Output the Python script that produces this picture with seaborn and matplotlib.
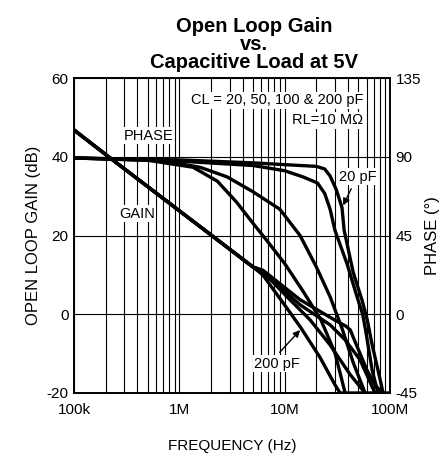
import numpy as np
import pandas as pd
import matplotlib
matplotlib.use("Agg")
import matplotlib.pyplot as plt
import seaborn as sns

# gain curves (dB) vs frequency (Hz)
gain_freq_20 = [1e5, 2.2e5, 2.03e6, 5e6, 6.2e6, 14e6, 30e6, 38e6, 42e6, 45e6, 52e6, 60e6, 72e6, 86e6]
gain_db_20 = [46.8, 39.7, 20.0, 12.0, 11.2, 3.7, -1.5, -3.0, -4.0, -6.0, -10.0, -14.0, -18.0, -20.0]
gain_freq_50 = [1e5, 2.2e5, 2.03e6, 5e6, 6.2e6, 14e6, 27e6, 37.5e6, 52e6, 72e6]
gain_db_50 = [46.8, 39.7, 20.0, 12.0, 11.0, 2.4, -2.7, -6.5, -11.6, -20.0]
gain_freq_100 = [1e5, 2.2e5, 2.03e6, 5e6, 6.2e6, 11.2e6, 17.4e6, 27e6, 41.8e6, 58e6]
gain_db_100 = [46.8, 39.7, 20.0, 12.0, 10.8, 3.7, -1.4, -7.8, -15.3, -20.0]
gain_freq_200 = [1e5, 2.2e5, 2.03e6, 5e6, 6.2e6, 10.8e6, 14.3e6, 21.7e6, 30e6, 33.6e6, 100e6]
gain_db_200 = [46.8, 39.7, 20.0, 12.0, 10.0, 1.1, -3.5, -11.0, -17.9, -20.0, -20.0]

# phase curves (degrees) vs frequency (Hz)
phase_freq_20 = [1e5, 1e6, 5e6, 10e6, 20e6, 24e6, 27e6, 31e6, 35e6, 36.7e6, 44.7e6, 54.3e6, 60.7e6, 67.7e6, 77e6, 86e6]
phase_deg_20 = [89.3, 88.2, 86.5, 85.5, 84.5, 83.0, 79.0, 71.0, 61.0, 48.0, 24.0, 8.0, -3.0, -17.5, -32.0, -45.0]
phase_freq_50 = [1e5, 1e6, 5e6, 10e6, 14.9e6, 20.5e6, 24e6, 27e6, 30e6, 39e6, 49.8e6, 55e6, 59e6, 67.7e6, 77e6]
phase_deg_50 = [89.3, 87.5, 85.0, 82.0, 78.5, 75.0, 69.0, 60.0, 48.0, 29.0, 8.0, 0.0, -10.0, -32.0, -45.0]
phase_freq_100 = [1e5, 6.56e5, 1.57e6, 2.84e6, 5e6, 9e6, 14e6, 20e6, 27e6, 35e6, 45e6, 58e6]
phase_deg_100 = [89.3, 88.0, 84.0, 78.5, 70.0, 60.0, 45.0, 27.0, 10.0, -8.0, -28.0, -45.0]
phase_freq_200 = [1e5, 5e5, 1.35e6, 2.3e6, 3.5e6, 5e6, 6.8e6, 10e6, 15e6, 22e6, 30e6, 37.5e6]
phase_deg_200 = [89.3, 88.0, 84.0, 76.0, 64.0, 52.0, 42.0, 29.0, 13.0, -3.0, -22.0, -45.0]

x_ticks = [1e5, 1e6, 1e7, 1e8]
x_tick_labels = ["100k", "1M", "10M", "100M"]
gain_ticks = [-20, 0, 20, 40, 60]
phase_ticks = [-45, 0, 45, 90, 135]

sns.set_style("white")
plt.rcParams["font.family"] = ["Liberation Sans", "DejaVu Sans"]
plt.rcParams["text.color"] = "black"
plt.rcParams["axes.labelcolor"] = "black"
plt.rcParams["xtick.color"] = "black"
plt.rcParams["ytick.color"] = "black"
plt.rcParams["axes.unicode_minus"] = False

fig = plt.figure(figsize=(4.43, 4.55), dpi=100)
ax = fig.add_axes([74 / 443, 1 - 393 / 455, 316 / 443, 315 / 455])
ax2 = ax.twinx()

lw = 2.4
for f, g in [(gain_freq_20, gain_db_20), (gain_freq_50, gain_db_50),
             (gain_freq_100, gain_db_100), (gain_freq_200, gain_db_200)]:
    df = pd.DataFrame({"freq": f, "val": g})
    sns.lineplot(data=df, x="freq", y="val", ax=ax, color="black", lw=lw,
                 sort=False, estimator=None, legend=False, zorder=5)

for f, p in [(phase_freq_20, phase_deg_20), (phase_freq_50, phase_deg_50),
             (phase_freq_100, phase_deg_100), (phase_freq_200, phase_deg_200)]:
    df = pd.DataFrame({"freq": f, "val": p})
    sns.lineplot(data=df, x="freq", y="val", ax=ax2, color="black", lw=lw,
                 sort=False, estimator=None, legend=False, zorder=5)

ax.set_xscale("log")
ax.set_xlim(1e5, 1e8)
ax.set_ylim(-20, 60)
ax2.set_ylim(-45, 135)
ax.set_xticks(x_ticks)
ax.set_xticklabels(x_tick_labels)
ax.set_yticks(gain_ticks)
ax2.set_yticks(phase_ticks)

ax.grid(True, which="both", axis="x", color="black", lw=0.8)
ax.grid(True, which="major", axis="y", color="black", lw=0.8)
ax.tick_params(axis="y", which="both", length=0, labelsize=11, pad=4)
ax.tick_params(axis="x", which="both", length=0, labelsize=11, pad=7)
ax2.tick_params(which="both", length=0, labelsize=11, pad=4)
for sp in list(ax.spines.values()) + list(ax2.spines.values()):
    sp.set_color("black")
    sp.set_linewidth(1.2)

ax.set_xlabel("FREQUENCY (Hz)", fontsize=11, labelpad=16)
ax.set_ylabel("OPEN LOOP GAIN (dB)", fontsize=12, labelpad=4)
ax2.set_ylabel("PHASE (°)", fontsize=12, labelpad=3)

box = dict(facecolor="white", edgecolor="none", pad=1)
ax.text(55.6e6, 54.4, "CL = 20, 50, 100 & 200 pF", ha="right", va="center", fontsize=10.5, bbox=box, zorder=6)
ax.text(55.6e6, 49.3, "RL=10 MΩ", ha="right", va="center", fontsize=10.5, bbox=box, zorder=6)
ax.text(5.05e5, 45.3, "PHASE", ha="center", va="center", fontsize=10.5, bbox=box, zorder=6)
ax.text(3.96e5, 25.5, "GAIN", ha="center", va="center", fontsize=10.5, bbox=box, zorder=6)
ax.text(49.8e6, 34.9, "20 pF", ha="center", va="center", fontsize=10.5, bbox=box, zorder=6)
ax.text(8.5e6, -12.6, "200 pF", ha="center", va="center", fontsize=10.5, bbox=box, zorder=6)
ax.annotate("", xy=(35e6, 27), xytext=(44e6, 32.5),
            arrowprops=dict(arrowstyle="-|>", color="black", lw=1, mutation_scale=10), zorder=7)
ax.annotate("", xy=(14.6e6, -3.5), xytext=(8.6e6, -10.2),
            arrowprops=dict(arrowstyle="-|>", color="black", lw=1, mutation_scale=10), zorder=7)

title_lines = ["Open Loop Gain", "vs.", "Capacitive Load at 5V"]
for i, line in enumerate(title_lines):
    fig.text(254 / 443, 1 - (32 + 18 * i) / 455, line, ha="center", va="baseline",
             fontsize=14.5, fontweight="bold")

fig.savefig("out.png", dpi=100)
